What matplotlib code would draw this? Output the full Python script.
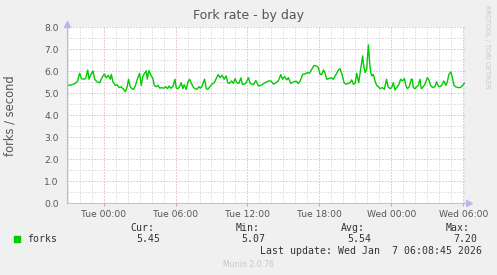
import matplotlib
matplotlib.use("Agg")
import matplotlib.pyplot as plt
import numpy as np

# time in hours relative to Tue 00:00, fork rate in forks/second
hours = [
    -3.0, -2.64, -2.36, -2.17, -2.0, -1.86, -1.67, -1.5, -1.33, -1.22, -1.11, -0.89, -0.75,
    -0.55, -0.33, -0.14, 0.06, 0.22, 0.39, 0.56, 0.64, 0.78, 0.97, 1.11, 1.31, 1.45, 1.67,
    1.81, 1.95, 2.08, 2.22, 2.36, 2.5, 2.64, 2.83, 3.0, 3.14, 3.28, 3.42, 3.56, 3.64, 3.78,
    3.95, 4.11, 4.22, 4.39, 4.53, 4.70, 4.83, 5.0, 5.17, 5.33, 5.47, 5.61, 5.78, 5.95, 6.06,
    6.2, 6.33, 6.47, 6.61, 6.72, 6.89, 7.03, 7.17, 7.36, 7.5, 7.64, 7.78, 7.95, 8.06, 8.2,
    8.31, 8.42, 8.56, 8.7, 8.83, 9.03, 9.22, 9.39, 9.56, 9.72, 9.89, 10.06, 10.22, 10.36,
    10.5, 10.67, 10.83, 10.97, 11.11, 11.28, 11.45, 11.58, 11.72, 11.89, 12.08,
    12.23, 12.5, 12.7, 12.92, 13.2, 13.48, 13.75, 13.95, 14.17, 14.39, 14.59, 14.78, 14.92,
    15.09, 15.28, 15.42, 15.61, 15.84, 16.06, 16.25, 16.39, 16.61, 16.81, 17.0, 17.17,
    17.36, 17.56, 17.78, 17.92, 18.06, 18.2, 18.34, 18.48, 18.61, 18.81, 18.98, 19.17,
    19.39, 19.59, 19.73, 19.89, 20.06, 20.23, 20.39, 20.56, 20.7, 20.84, 20.98, 21.11,
    21.28, 21.48, 21.61, 21.7, 21.81, 21.95, 22.0, 22.09, 22.17, 22.28, 22.39, 22.5, 22.64,
    22.78, 22.92, 23.06, 23.25, 23.42, 23.61, 23.73, 23.89, 24.03, 24.17, 24.31, 24.45,
    24.64, 24.78, 24.95, 25.09, 25.23, 25.34, 25.5, 25.67, 25.75, 25.84, 25.98, 26.11,
    26.25, 26.39, 26.5, 26.61, 26.81, 27.0, 27.14, 27.28, 27.45, 27.64, 27.78, 27.95,
    28.06, 28.2, 28.39, 28.56, 28.67, 28.81, 28.98, 29.11, 29.23, 29.36, 29.59, 29.78,
    29.95, 30.09,
]
forks = [
    5.36, 5.39, 5.45, 5.56, 5.91, 5.67, 5.64, 5.67, 6.06, 5.64, 5.79, 6.02, 5.64,
    5.52, 5.48, 5.71, 5.88, 5.70, 5.82, 5.64, 5.86, 5.52, 5.36, 5.39, 5.26, 5.30, 5.18,
    5.07, 5.26, 5.64, 5.30, 5.21, 5.18, 5.33, 5.67, 5.91, 5.36, 5.79, 5.91, 6.02, 5.64, 6.03,
    5.82, 5.67, 5.36, 5.30, 5.36, 5.23, 5.26, 5.23, 5.30, 5.21, 5.33, 5.23, 5.30, 5.64, 5.24,
    5.21, 5.30, 5.48, 5.21, 5.39, 5.18, 5.52, 5.64, 5.41, 5.26, 5.21, 5.18, 5.30, 5.24, 5.30,
    5.48, 5.64, 5.21, 5.18, 5.27, 5.41, 5.48, 5.67, 5.85, 5.71, 5.82, 5.64, 5.79, 5.48,
    5.45, 5.56, 5.45, 5.67, 5.48, 5.45, 5.70, 5.41, 5.41, 5.48, 5.71,
    5.45, 5.39, 5.58, 5.33, 5.39, 5.48, 5.56, 5.56, 5.42, 5.48, 5.58, 5.85, 5.64,
    5.76, 5.61, 5.71, 5.45, 5.52, 5.55, 5.45, 5.55, 5.86, 5.88, 5.94, 5.91,
    6.09, 6.27, 6.24, 6.17, 5.86, 5.86, 6.06, 5.91, 5.64, 5.67, 5.71, 5.64,
    5.86, 6.06, 6.12, 5.86, 5.48, 5.41, 5.45, 5.48, 5.61, 5.41, 5.45, 5.91,
    5.48, 6.24, 6.70, 6.24, 5.94, 6.09, 6.55, 7.20, 6.55, 5.94, 5.79, 5.86, 5.56,
    5.36, 5.30, 5.21, 5.26, 5.18, 5.64, 5.30, 5.21, 5.26, 5.48, 5.15, 5.26,
    5.41, 5.64, 5.56, 5.67, 5.33, 5.21, 5.30, 5.64, 5.64, 5.26, 5.21, 5.30,
    5.36, 5.64, 5.21, 5.26, 5.41, 5.71, 5.61, 5.36, 5.26, 5.30, 5.52, 5.30,
    5.30, 5.36, 5.56, 5.36, 5.52, 5.86, 5.97, 5.67, 5.36, 5.30, 5.26, 5.26,
    5.36, 5.45,
]

tick_hours = [0, 6, 12, 18, 24, 30]
tick_labels = ["Tue 00:00", "Tue 06:00", "Tue 12:00", "Tue 18:00", "Wed 00:00", "Wed 06:00"]
y_ticks = [0.0, 1.0, 2.0, 3.0, 4.0, 5.0, 6.0, 7.0, 8.0]

legend_name = "forks"
stat_names = ["Cur:", "Min:", "Avg:", "Max:"]
stat_values = ["5.45", "5.07", "5.54", "7.20"]

W, H = 497, 275
fig = plt.figure(figsize=(W / 100, H / 100), dpi=100)
fig.patch.set_facecolor("#F0F0F0")

L, R, B, T = 67.3, 465.0, 203.3, 27.3
ax = fig.add_axes([L / W, 1 - B / H, (R - L) / W, (B - T) / H])
ax.set_facecolor("white")

ax.set_xlim(-3.03, 30.15)
ax.set_ylim(0, 8)

ax.set_xticks(tick_hours)
ax.set_xticklabels(tick_labels)
ax.set_xticks(np.arange(-3, 31, 1), minor=True)
ax.set_yticks(y_ticks)
ax.set_yticklabels([f"{v:.1f}" for v in y_ticks])
ax.set_yticks(np.arange(0, 8.01, 0.5), minor=True)

txtc = "#555555"
ax.tick_params(axis="x", which="major", length=2, color="#e0a0a0", labelsize=6.6,
               labelcolor=txtc, pad=2.5)
ax.tick_params(axis="y", which="major", length=0, labelsize=6.6, labelcolor=txtc, pad=6)
ax.tick_params(which="minor", length=0)

ax.grid(which="minor", color="#c8c8c8", linestyle=(0, (1, 2)), linewidth=0.72)
ax.grid(which="major", color="#e49a9a", linestyle=(0, (1, 2)), linewidth=0.72)
ax.set_axisbelow(True)

for s in ["top", "right"]:
    ax.spines[s].set_visible(False)
ax.spines["left"].set_color("#b8b8f0")
ax.spines["bottom"].set_color("#c8c0e8")
ax.spines["left"].set_linewidth(0.8)
ax.spines["bottom"].set_linewidth(0.8)

ax.plot(hours, forks, color="#00CC00", linewidth=1.0)
ax.axvline(30.15, color="#606060", linewidth=0.9)

# axis arrows
ax.plot([0], [1.02], marker="^", markersize=4, color="#b8b8f0", transform=ax.transAxes,
        clip_on=False)
ax.plot([1.01], [0], marker=">", markersize=4, color="#b8b8f0", transform=ax.transAxes,
        clip_on=False)

def fx(x):
    return x / W

def fy(y):
    return 1 - y / H

fig.text(fx(248.5), fy(15), "Fork rate - by day", ha="center", va="center", fontsize=9,
         color=txtc)
fig.text(fx(10.5), fy(115.3), "forks / second", rotation=90, ha="center", va="center",
         fontsize=8.3, color=txtc)
fig.text(fx(487), fy(5), "RRDTOOL / TOBI OETIKER", rotation=270, ha="center", va="top",
         fontsize=4.7, color="#c8c8c8")

mono = "DejaVu Sans Mono"
fig.patches.append(plt.Rectangle((fx(14), fy(242.3)), 6 / W, 6 / H, transform=fig.transFigure,
                                 color="#00CC00", figure=fig))
fig.text(fx(26.7), fy(239.3), legend_name, ha="left", va="center", fontsize=7.1,
         family=mono, color="#333333")

name_right = [154.7, 260.0, 365.0, 470.0]
val_right = [160.7, 265.7, 371.7, 477.3]
for nm, v, nr, vr in zip(stat_names, stat_values, name_right, val_right):
    fig.text(fx(nr), fy(227.7), nm, ha="right", va="center", fontsize=7.1, family=mono,
             color="#333333")
    fig.text(fx(vr), fy(239.3), v, ha="right", va="center", fontsize=7.1, family=mono,
             color="#333333")

fig.text(fx(482.3), fy(251), "Last update: Wed Jan  7 06:08:45 2026", ha="right",
         va="center", fontsize=7.1, family=mono, color="#333333")
fig.text(fx(248.3), fy(264.3), "Munin 2.0.76", ha="center", va="center", fontsize=5.6,
         color="#c8c8c8")

fig.savefig("out.png", dpi=100, facecolor=fig.get_facecolor())
